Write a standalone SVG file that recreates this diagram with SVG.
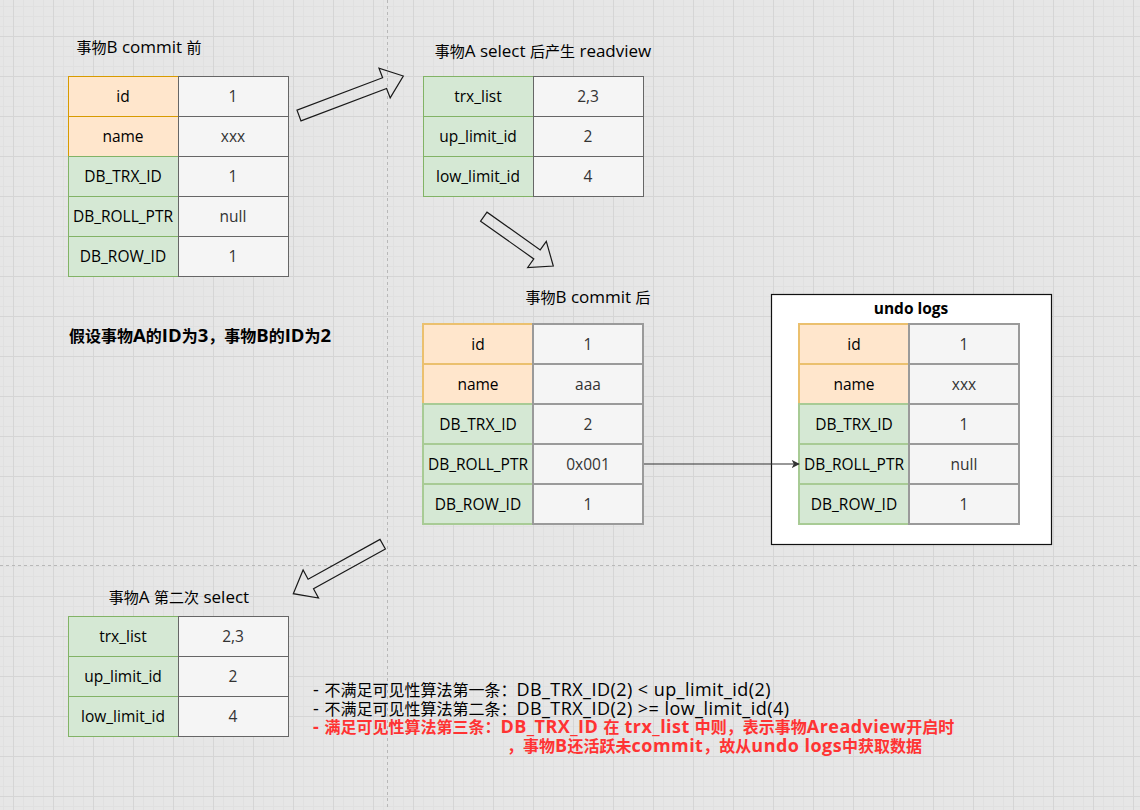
<svg xmlns="http://www.w3.org/2000/svg" width="1140" height="810" viewBox="0 0 1140 810">
<defs>
<pattern id="grid" x="13" y="36" width="40" height="40" patternUnits="userSpaceOnUse">
<rect width="40" height="40" fill="#e6e6e6"/>
<path d="M10.5 0V40M20.5 0V40M30.5 0V40M0 10.5H40M0 20.5H40M0 30.5H40" stroke="#e0e0e0" stroke-width="1"/>
<path d="M0.5 0V40M0 0.5H40" stroke="#d5d5d5" stroke-width="1"/>
</pattern>
<marker id="ah" viewBox="0 0 10 10" refX="9" refY="5" markerWidth="8" markerHeight="8" markerUnits="userSpaceOnUse" orient="auto">
<path d="M0 0L10 5L0 10L2.5 5Z" fill="#333"/>
</marker>
<style>
.f{font-family:"Open Sans","Noto Sans CJK SC",sans-serif}
.lab{font-family:"Open Sans","Noto Sans CJK SC",sans-serif;font-size:15.5px;fill:#000;text-anchor:middle}
.val{font-family:"Open Sans","Noto Sans CJK SC",sans-serif;font-size:15.5px;fill:#333;text-anchor:middle}
.o{fill:#ffe6cc;stroke:#d79b00;stroke-width:1}
.g{fill:#d5e8d4;stroke:#82b366;stroke-width:1}
.v{fill:#f5f5f5;stroke:#666;stroke-width:1}
.L .o{stroke:#ebc06e;stroke-width:2}
.L .g{stroke:#a8cb95;stroke-width:2}
.L .v{stroke:#9a9a9a;stroke-width:2}
.ttl{font-family:"Open Sans","Noto Sans CJK SC",sans-serif;font-size:17px;fill:#000;text-anchor:middle}
.c15{font-family:"Noto Sans CJK SC",sans-serif;font-size:15px}
.c16{font-family:"Noto Sans CJK SC",sans-serif;font-size:16px;letter-spacing:0}
.big{font-family:"Open Sans","Noto Sans CJK SC",sans-serif;font-size:18px;fill:#000;letter-spacing:0.45px}
.red{fill:#ff3333;font-weight:bold}
.b{font-weight:bold}
.fa{fill:none;stroke:#1a1a1a;stroke-width:1.2;stroke-linejoin:miter}
.pb{stroke:#b8b8b8;stroke-width:1;stroke-dasharray:3 3;fill:none}
</style>
</defs>
<rect width="1140" height="810" fill="url(#grid)"/>
<g id="page-breaks">
<line class="pb" x1="387.5" y1="0" x2="387.5" y2="810"/>
<line class="pb" x1="0" y1="565.5" x2="1140" y2="565.5"/>
</g>

<g id="title-before"><text class="ttl" x="139" y="53"><tspan class="c15">事物</tspan>B commit <tspan class="c15">前</tspan></text></g>

<g id="table-before">
<rect class="o" x="68.5" y="76.5" width="110" height="40"/>
<rect class="o" x="68.5" y="116.5" width="110" height="40"/>
<rect class="g" x="68.5" y="156.5" width="110" height="40"/>
<rect class="g" x="68.5" y="196.5" width="110" height="40"/>
<rect class="g" x="68.5" y="236.5" width="110" height="40"/>
<rect class="v" x="178.5" y="76.5" width="110" height="40"/>
<rect class="v" x="178.5" y="116.5" width="110" height="40"/>
<rect class="v" x="178.5" y="156.5" width="110" height="40"/>
<rect class="v" x="178.5" y="196.5" width="110" height="40"/>
<rect class="v" x="178.5" y="236.5" width="110" height="40"/>
<text class="lab" x="123" y="101.5">id</text>
<text class="lab" x="123" y="141.5">name</text>
<text class="lab" x="123" y="181.5">DB_TRX_ID</text>
<text class="lab" x="123" y="221.5">DB_ROLL_PTR</text>
<text class="lab" x="123" y="261.5">DB_ROW_ID</text>
<text class="val" x="233" y="101.5">1</text>
<text class="val" x="233" y="141.5">xxx</text>
<text class="val" x="233" y="181.5">1</text>
<text class="val" x="233" y="221.5">null</text>
<text class="val" x="233" y="261.5">1</text>
</g>

<g id="title-readview"><text class="ttl" x="543" y="57"><tspan class="c15">事物</tspan>A select <tspan class="c15">后产生</tspan> readview</text></g>

<g id="table-readview">
<rect class="g" x="423.5" y="76.5" width="110" height="40"/>
<rect class="g" x="423.5" y="116.5" width="110" height="40"/>
<rect class="g" x="423.5" y="156.5" width="110" height="40"/>
<rect class="v" x="533.5" y="76.5" width="110" height="40"/>
<rect class="v" x="533.5" y="116.5" width="110" height="40"/>
<rect class="v" x="533.5" y="156.5" width="110" height="40"/>
<text class="lab" x="478" y="101.5">trx_list</text>
<text class="lab" x="478" y="141.5">up_limit_id</text>
<text class="lab" x="478" y="181.5">low_limit_id</text>
<text class="val" x="588" y="101.5">2,3</text>
<text class="val" x="588" y="141.5">2</text>
<text class="val" x="588" y="181.5">4</text>
</g>

<g id="note-ids"><text class="f b" x="69" y="342" font-size="18.5" fill="#000"><tspan class="c16">假设事物</tspan>A<tspan class="c16">的</tspan>ID<tspan class="c16">为</tspan>3<tspan class="c16">，事物</tspan>B<tspan class="c16">的</tspan>ID<tspan class="c16">为</tspan>2</text></g>

<g id="title-after"><text class="ttl" x="588" y="303"><tspan class="c15">事物</tspan>B commit <tspan class="c15">后</tspan></text></g>

<g id="table-after" class="L">
<rect class="o" x="423" y="324" width="110" height="40"/>
<rect class="o" x="423" y="364" width="110" height="40"/>
<rect class="g" x="423" y="404" width="110" height="40"/>
<rect class="g" x="423" y="444" width="110" height="40"/>
<rect class="g" x="423" y="484" width="110" height="40"/>
<rect class="v" x="533" y="324" width="110" height="40"/>
<rect class="v" x="533" y="364" width="110" height="40"/>
<rect class="v" x="533" y="404" width="110" height="40"/>
<rect class="v" x="533" y="444" width="110" height="40"/>
<rect class="v" x="533" y="484" width="110" height="40"/>
<text class="lab" x="478" y="349.5">id</text>
<text class="lab" x="478" y="389.5">name</text>
<text class="lab" x="478" y="429.5">DB_TRX_ID</text>
<text class="lab" x="478" y="469.5">DB_ROLL_PTR</text>
<text class="lab" x="478" y="509.5">DB_ROW_ID</text>
<text class="val" x="588" y="349.5">1</text>
<text class="val" x="588" y="389.5">aaa</text>
<text class="val" x="588" y="429.5">2</text>
<text class="val" x="588" y="469.5">0x001</text>
<text class="val" x="588" y="509.5">1</text>
</g>

<g id="undo-logs" class="L">
<rect x="771.5" y="294.5" width="280" height="250" fill="#ffffff" stroke="#111" stroke-width="1.2"/>
<text class="f b" x="911" y="314" font-size="15.5" text-anchor="middle" fill="#000">undo logs</text>
<rect class="o" x="799" y="324" width="110" height="40"/>
<rect class="o" x="799" y="364" width="110" height="40"/>
<rect class="g" x="799" y="404" width="110" height="40"/>
<rect class="g" x="799" y="444" width="110" height="40"/>
<rect class="g" x="799" y="484" width="110" height="40"/>
<rect class="v" x="909" y="324" width="110" height="40"/>
<rect class="v" x="909" y="364" width="110" height="40"/>
<rect class="v" x="909" y="404" width="110" height="40"/>
<rect class="v" x="909" y="444" width="110" height="40"/>
<rect class="v" x="909" y="484" width="110" height="40"/>
<text class="lab" x="854" y="349.5">id</text>
<text class="lab" x="854" y="389.5">name</text>
<text class="lab" x="854" y="429.5">DB_TRX_ID</text>
<text class="lab" x="854" y="469.5">DB_ROLL_PTR</text>
<text class="lab" x="854" y="509.5">DB_ROW_ID</text>
<text class="val" x="964" y="349.5">1</text>
<text class="val" x="964" y="389.5">xxx</text>
<text class="val" x="964" y="429.5">1</text>
<text class="val" x="964" y="469.5">null</text>
<text class="val" x="964" y="509.5">1</text>
</g>

<g id="title-second"><text class="ttl" x="179" y="603"><tspan class="c15">事物</tspan>A <tspan class="c15">第二次</tspan> select</text></g>

<g id="table-second">
<rect class="g" x="68.5" y="616.5" width="110" height="40"/>
<rect class="g" x="68.5" y="656.5" width="110" height="40"/>
<rect class="g" x="68.5" y="696.5" width="110" height="40"/>
<rect class="v" x="178.5" y="616.5" width="110" height="40"/>
<rect class="v" x="178.5" y="656.5" width="110" height="40"/>
<rect class="v" x="178.5" y="696.5" width="110" height="40"/>
<text class="lab" x="123" y="641.5">trx_list</text>
<text class="lab" x="123" y="681.5">up_limit_id</text>
<text class="lab" x="123" y="721.5">low_limit_id</text>
<text class="val" x="233" y="641.5">2,3</text>
<text class="val" x="233" y="681.5">2</text>
<text class="val" x="233" y="721.5">4</text>
</g>

<g id="note-rules">
<text class="big" x="313" y="696">- <tspan class="c16">不满足可见性算法第一条：</tspan>DB_TRX_ID(2) &lt; up_limit_id(2)</text>
<text class="big" x="313" y="714.5">- <tspan class="c16">不满足可见性算法第二条：</tspan>DB_TRX_ID(2) &gt;= low_limit_id(4)</text>
<text class="big red" x="313" y="733">- <tspan class="c16">满足可见性算法第三条：</tspan>DB_TRX_ID <tspan class="c16">在</tspan> trx_list <tspan class="c16">中则，表示事物</tspan>Areadview<tspan class="c16">开启时</tspan></text>
<text class="big red" x="507" y="751.5"><tspan class="c16">，事物</tspan>B<tspan class="c16">还活跃未</tspan>commit<tspan class="c16">，故从</tspan>undo logs<tspan class="c16">中获取数据</tspan></text>
</g>

<g id="connectors">
<polygon class="fa" points="301,120.9 386.6,88.5 390.2,97.9 403.3,76 379,68.3 382.6,77.7 297,110.1"/>
<polygon class="fa" points="480.6,221.2 533.8,258.9 527.7,267.5 553.3,266 546.3,241.3 540.2,249.9 487,212.2"/>
<polygon class="fa" points="385.4,549 313.5,588.8 318.5,598 293.3,593.7 303.1,570 308.1,579.2 380,539.4"/>
<line x1="644" y1="464" x2="799" y2="464" stroke="#333" stroke-width="1.2" marker-end="url(#ah)"/>
</g>
</svg>
